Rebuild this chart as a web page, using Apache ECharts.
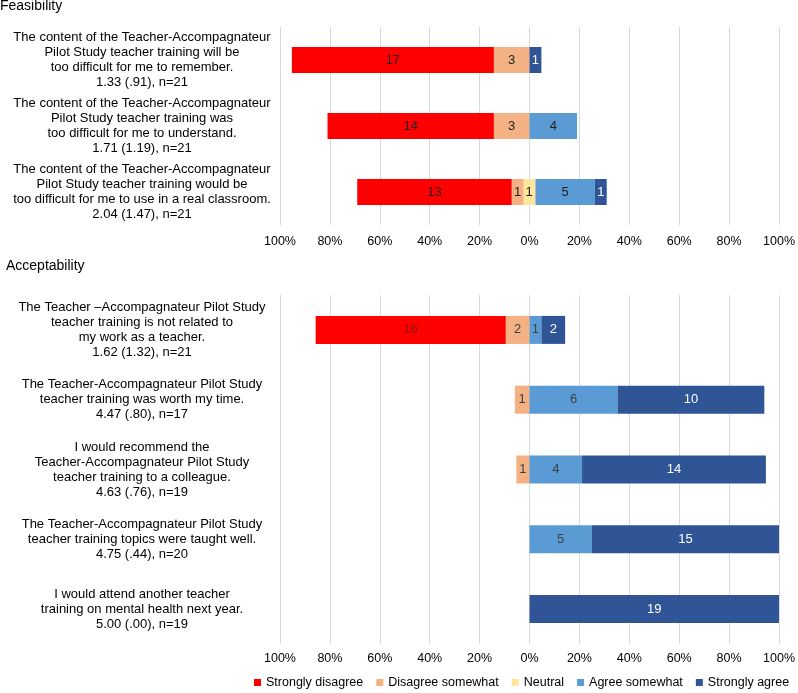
<!DOCTYPE html>
<html>
<head>
<meta charset="utf-8">
<script src="https://cdn.jsdelivr.net/npm/echarts@6/dist/echarts.min.js"></script>
<style>
html,body{margin:0;padding:0;background:#fff;}
#chart{width:798px;height:693px;}
</style>
</head>
<body>
<div id="chart"></div>
<script>
// ---- Data ----
const levels = ['Strongly disagree', 'Disagree somewhat', 'Neutral', 'Agree somewhat', 'Strongly agree'];
const xTicks = [-1, 1, 0.2]; // min, max, interval (as shares)

const feasItems = [
  'The content of the Teacher-Accompagnateur\nPilot Study teacher training will be\ntoo difficult for me to remember.\n1.33 (.91), n=21',
  'The content of the Teacher-Accompagnateur\nPilot Study teacher training was\ntoo difficult for me to understand.\n1.71 (1.19), n=21',
  'The content of the Teacher-Accompagnateur\nPilot Study teacher training would be\ntoo difficult for me to use in a real classroom.\n2.04 (1.47), n=21'
];
const feasSD = [17, 14, 13];
const feasDS = [3, 3, 1];
const feasN  = [0, 0, 1];
const feasAS = [0, 4, 5];
const feasSA = [1, 0, 1];

const accItems = [
  'The Teacher \u2013Accompagnateur Pilot Study\nteacher training is not related to\nmy work as a teacher.\n1.62 (1.32), n=21',
  'The Teacher-Accompagnateur Pilot Study\nteacher training was worth my time.\n4.47 (.80), n=17',
  'I would recommend the\nTeacher-Accompagnateur Pilot Study\nteacher training to a colleague.\n4.63 (.76), n=19',
  'The Teacher-Accompagnateur Pilot Study\nteacher training topics were taught well.\n4.75 (.44), n=20',
  'I would attend another teacher\ntraining on mental health next year.\n5.00 (.00), n=19'
];
const accSD = [16, 0, 0, 0, 0];
const accDS = [2, 1, 1, 0, 0];
const accN  = [0, 0, 0, 0, 0];
const accAS = [1, 6, 4, 5, 0];
const accSA = [2, 10, 14, 15, 19];

// ---- Styles ----
const colors = {
  'Strongly disagree': '#FF0000',
  'Disagree somewhat': '#F4B183',
  'Neutral': '#FFE699',
  'Agree somewhat': '#5B9BD5',
  'Strongly agree': '#2F5597'
};
const FONT = '"Liberation Sans", Arial, sans-serif';

function buildSeries(idx, stackName, sd, ds, nn, as, sa, barW, darkLabel, redLabel) {
  const n = sd.map((v, i) => sd[i] + ds[i] + nn[i] + as[i] + sa[i]);
  const mk = (name, counts, sign, half, labelOpts, color) => ({
    type: 'bar',
    name: name,
    stack: stackName,
    xAxisIndex: idx,
    yAxisIndex: idx,
    barWidth: barW,
    itemStyle: { color: colors[name] },
    data: counts.map((c, i) => ({ value: sign * c * (half ? 0.5 : 1) / n[i], count: c })),
    label: Object.assign({
      show: true,
      fontFamily: FONT,
      fontSize: 13,
      color: color,
      formatter: p => (p.data.count ? String(p.data.count) : '')
    }, labelOpts || {})
  });
  return [
    mk('Neutral', nn, -1, true, { show: false }, darkLabel),
    mk('Disagree somewhat', ds, -1, false, null, darkLabel),
    mk('Strongly disagree', sd, -1, false, null, redLabel),
    mk('Neutral', nn, 1, true, { position: 'insideLeft', distance: 0, offset: [-4, 0] }, darkLabel),
    mk('Agree somewhat', as, 1, false, null, darkLabel),
    mk('Strongly agree', sa, 1, false, null, '#ffffff')
  ];
}

const xAxisBase = (gi, margin) => ({
  type: 'value',
  gridIndex: gi,
  min: xTicks[0],
  max: xTicks[1],
  interval: xTicks[2],
  axisLine: { show: false },
  axisTick: { show: false },
  splitLine: { show: true, lineStyle: { color: '#d9d9d9', width: 1 } },
  axisLabel: {
    margin: margin,
    fontFamily: FONT,
    fontSize: 12.5,
    color: '#000',
    formatter: v => Math.round(Math.abs(v) * 100) + '%'
  }
});

const yAxisBase = (gi, items) => ({
  type: 'category',
  gridIndex: gi,
  inverse: true,
  data: items,
  axisLine: { show: false },
  axisTick: { show: false },
  splitLine: { show: false },
  axisLabel: {
    interval: 0,
    margin: 138,
    align: 'center',
    fontFamily: FONT,
    fontSize: 13,
    lineHeight: 15,
    color: '#000'
  }
});

const option = {
  animation: false,
  backgroundColor: '#fff',
  title: [
    { text: 'Feasibility', left: 0, top: -1, padding: 0,
      textStyle: { fontFamily: FONT, fontSize: 14, fontWeight: 'normal', color: '#000' } },
    { text: 'Acceptability', left: 6, top: 259, padding: 0,
      textStyle: { fontFamily: FONT, fontSize: 14, fontWeight: 'normal', color: '#000' } }
  ],
  legend: {
    data: levels,
    left: 254,
    top: 676,
    padding: 0,
    icon: 'rect',
    itemWidth: 7,
    itemHeight: 7,
    itemGap: 13,
    textStyle: { fontFamily: FONT, fontSize: 12.5, color: '#000' }
  },
  grid: [
    { left: 280, right: 18, top: 27, height: 198 },
    { left: 280, right: 18, top: 295, height: 349 }
  ],
  xAxis: [xAxisBase(0, 10), xAxisBase(1, 8)],
  yAxis: [yAxisBase(0, feasItems), yAxisBase(1, accItems)],
  series: [].concat(
    buildSeries(0, 'feas', feasSD, feasDS, feasN, feasAS, feasSA, 26, '#222', '#222'),
    buildSeries(1, 'acc', accSD, accDS, accN, accAS, accSA, 28, '#404040', '#8c1414')
  )
};

const chart = echarts.init(document.getElementById('chart'), null, { renderer: 'canvas' });
chart.setOption(option);
</script>
</body>
</html>
